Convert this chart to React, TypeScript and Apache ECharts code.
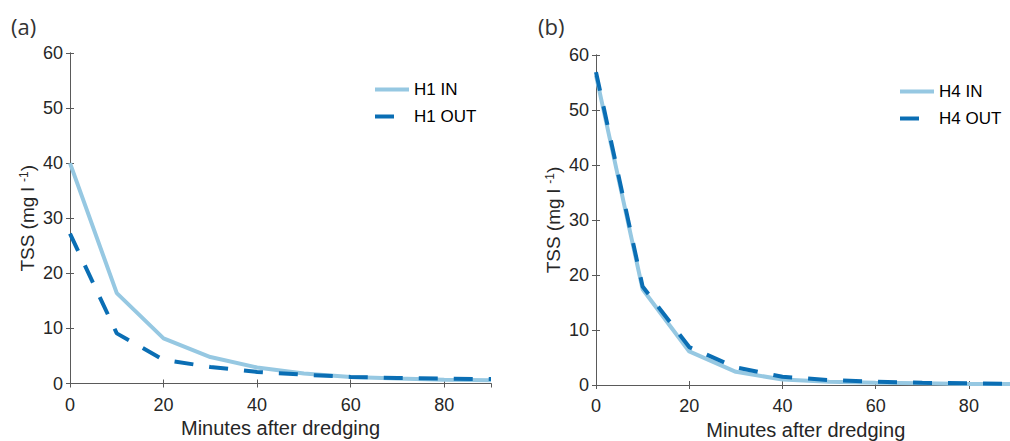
import React, { useEffect, useRef } from "react";
import * as echarts from "echarts";

const minutes = [0, 10, 20, 30, 40, 50, 60, 70, 80, 90];
const h1In = [40, 16.4, 8.2, 4.8, 2.9, 1.8, 1.2, 0.9, 0.7, 0.6];
const h1Out = [27.2, 9.1, 4.3, 3.0, 2.1, 1.6, 1.2, 1.0, 0.9, 0.8];
const h4In = [56.3, 17.4, 6.1, 2.4, 1.0, 0.6, 0.4, 0.3, 0.2, 0.2];
const h4Out = [56.9, 17.9, 6.9, 3.2, 1.5, 0.9, 0.6, 0.4, 0.3, 0.2];
const xTicks = [0, 20, 40, 60, 80];
const yTicks = [0, 10, 20, 30, 40, 50, 60];
const panelLabels = ["(a)", "(b)"];

const IN_COLOR = "#96c8e2";
const OUT_COLOR = "#0a6eb4";
const AXIS_COLOR = "#5a5a5a";
const TEXT_COLOR = "#262626";
const FONT = "Liberation Sans, Arial, sans-serif";

export default function App() {
  const ref = useRef<HTMLDivElement>(null);
  useEffect(() => {
    if (!ref.current) return;
    const chart = echarts.init(ref.current, null, { renderer: "svg" });
    const grids = [
      { left: 70, top: 53, width: 421, height: 330.5, outerBoundsMode: "none", containLabel: false },
      { left: 596, top: 55, width: 419.5, height: 330, outerBoundsMode: "none", containLabel: false },
    ];
    const pair = (ys: number[]) => minutes.map((m, i) => [m, ys[i]]);
    const xAxes: any[] = [];
    const yAxes: any[] = [];
    grids.forEach((_, gi) => {
      const common = {
        gridIndex: gi,
        type: "value",
        axisLine: { show: true, lineStyle: { color: AXIS_COLOR, width: 1 } },
        axisTick: { show: true, inside: true, length: 4, lineStyle: { color: AXIS_COLOR } },
        splitLine: { show: false },
      };
      xAxes.push({
        ...common,
        position: "bottom",
        min: 0,
        max: 90,
        interval: 20,
        name: "Minutes after dredging",
        nameLocation: "middle",
        nameGap: 34,
        nameTextStyle: { fontSize: 20, color: TEXT_COLOR, fontFamily: FONT },
        axisLabel: {
          fontSize: 18,
          color: TEXT_COLOR,
          fontFamily: FONT,
          margin: 12,
          showMaxLabel: false,
          formatter: (v: number) => (xTicks.includes(v) ? String(v) : ""),
        },
      });
      xAxes.push({
        ...common,
        position: "top",
        min: 0,
        max: 90,
        interval: 20,
        axisLabel: { show: false },
      });
      yAxes.push({
        ...common,
        position: "left",
        min: 0,
        max: 60,
        interval: 10,
        name: "TSS (mg l {sup|-1})",
        nameLocation: "middle",
        nameRotate: 90,
        nameGap: 33,
        nameTextStyle: {
          fontSize: 19,
          color: TEXT_COLOR,
          fontFamily: FONT,
          rich: {
            sup: { fontSize: 12, color: TEXT_COLOR, fontFamily: FONT, verticalAlign: "top", lineHeight: 12 },
          },
        },
        axisLabel: {
          fontSize: 18,
          color: TEXT_COLOR,
          fontFamily: FONT,
          margin: 7,
          formatter: (v: number) => (yTicks.includes(v) ? String(v) : ""),
        },
      });
      yAxes.push({
        ...common,
        position: "right",
        min: 0,
        max: 60,
        interval: 10,
        axisLabel: { show: false },
      });
    });
    const mk = (name: string, ys: number[], gi: number, dashed: boolean) => ({
      name,
      type: "line",
      xAxisIndex: gi * 2,
      yAxisIndex: gi * 2,
      data: pair(ys),
      symbol: "none",
      clip: false,
      lineStyle: dashed
        ? { color: OUT_COLOR, width: 4, type: [19, 16] }
        : { color: IN_COLOR, width: 4, type: "solid" },
      itemStyle: { color: dashed ? OUT_COLOR : IN_COLOR },
    });
    const legendCommon = {
      orient: "vertical",
      itemWidth: 34,
      itemHeight: 14,
      itemGap: 10,
      itemStyle: { opacity: 0 },
      lineStyle: { width: 4 },
      textStyle: { fontSize: 17, color: "#000", fontFamily: FONT },
    };
    chart.setOption({
      animation: false,
      grid: grids,
      xAxis: xAxes,
      yAxis: yAxes,
      legend: [
        { ...legendCommon, left: 368, top: 76, data: ["H1 IN", "H1 OUT"] },
        { ...legendCommon, left: 893, top: 78, data: ["H4 IN", "H4 OUT"] },
      ],
      graphic: [
        { type: "text", left: 11, top: 15, style: { text: panelLabels[0], fontSize: 22, fill: "#333", fontFamily: "Open Sans, sans-serif" } },
        { type: "text", left: 538, top: 15, style: { text: panelLabels[1], fontSize: 22, fill: "#333", fontFamily: "Open Sans, sans-serif" } },
      ],
      series: [
        mk("H1 IN", h1In, 0, false),
        mk("H1 OUT", h1Out, 0, true),
        mk("H4 IN", h4In, 1, false),
        mk("H4 OUT", h4Out, 1, true),
      ],
    });
    return () => chart.dispose();
  }, []);
  return (
    <div
      ref={ref}
      style={{ position: "absolute", left: 0, top: 0, width: 1010, height: 441, background: "#fff" }}
    />
  );
}
